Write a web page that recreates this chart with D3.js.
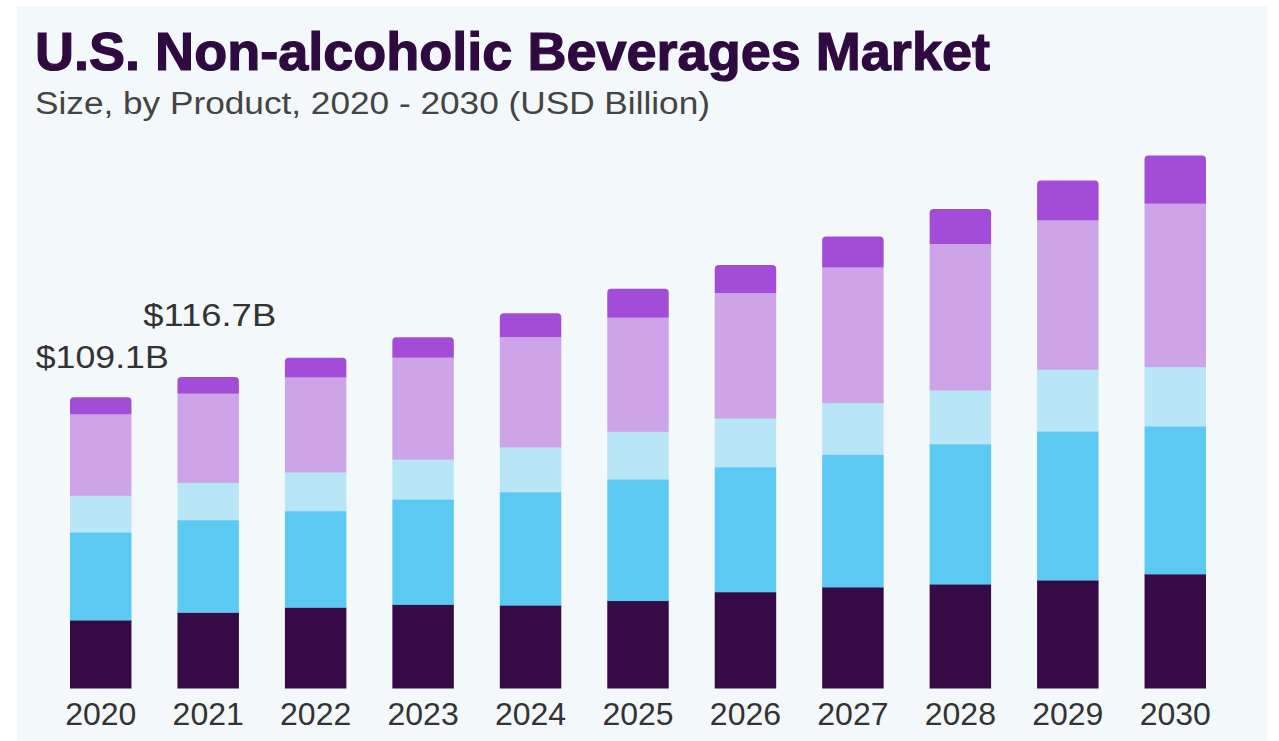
<!DOCTYPE html>
<html>
<head>
<meta charset="utf-8">
<script src="https://cdn.jsdelivr.net/npm/d3@7/dist/d3.min.js"></script>
<style>
  html, body { margin: 0; padding: 0; background: #ffffff; }
  svg { display: block; }
</style>
</head>
<body>
<svg id="chart" width="1279" height="741"></svg>
<script>
const years = ["2020","2021","2022","2023","2024","2025","2026","2027","2028","2029","2030"];
const seriesNames = ["s1","s2","s3","s4","s5"];
const s1 = [25.5, 28.4, 30.3, 31.4, 31.1, 32.8, 36.1, 37.9, 39.0, 40.5, 42.8];
const s2 = [33.0, 34.7, 36.2, 39.5, 42.5, 45.6, 46.9, 49.8, 52.6, 55.9, 55.5];
const s3 = [13.8, 14.0, 14.6, 15.0, 16.9, 17.9, 18.3, 19.4, 20.2, 23.2, 22.3];
const s4 = [30.3, 33.3, 35.4, 38.0, 41.1, 42.6, 46.8, 50.7, 54.8, 55.8, 61.1];
const s5 = [6.5, 6.3, 7.4, 7.7, 9.0, 10.9, 10.6, 11.6, 13.1, 15.0, 18.1];
const annotationYears = ["2020", "2021"];
const annotationTexts = ["$109.1B", "$116.7B"];
const colors = ["#360a45", "#5bc9f2", "#b8e6f7", "#cea4e8", "#a34cd7"];

const svg = d3.select("#chart");
svg.append("rect").attr("x", 17).attr("y", 6).attr("width", 1250).attr("height", 735).attr("fill", "#f3f8fa");

const table = years.map((y, i) => ({year: y, s1: s1[i], s2: s2[i], s3: s3[i], s4: s4[i], s5: s5[i]}));
const stacked = d3.stack().keys(seriesNames)(table);

const x = d3.scaleBand().domain(years).range([47, 1229]).paddingInner(0.428).paddingOuter(0.214);
const y = d3.scaleLinear().domain([0, 200]).range([688, 155]);

const g = svg.append("g");
stacked.forEach((layer, li) => {
  const isTop = li === stacked.length - 1;
  const sel = g.append("g").attr("fill", colors[li]);
  layer.forEach(d => {
    const x0 = x(d.data.year), w = x.bandwidth();
    const yTop = y(d[1]), yBot = y(d[0]);
    if (isTop) {
      const r = 4;
      const p = d3.path();
      p.moveTo(x0, yBot);
      p.lineTo(x0, yTop + r);
      p.quadraticCurveTo(x0, yTop, x0 + r, yTop);
      p.lineTo(x0 + w - r, yTop);
      p.quadraticCurveTo(x0 + w, yTop, x0 + w, yTop + r);
      p.lineTo(x0 + w, yBot);
      p.closePath();
      sel.append("path").attr("d", p.toString());
    } else {
      sel.append("rect").attr("x", x0).attr("y", yTop).attr("width", w).attr("height", yBot - yTop + 0.5);
    }
  });
});

// x axis
const axis = svg.append("g").attr("transform", "translate(0,695)")
  .call(d3.axisBottom(x).tickSize(0).tickPadding(0));
axis.select(".domain").remove();
axis.selectAll("text")
  .attr("dy", "0")
  .attr("y", 30)
  .attr("fill", "#333333")
  .style("font-family", "'Liberation Sans', Arial, sans-serif")
  .style("font-size", "32px");

// annotations
const totals = years.map((yr, i) => s1[i] + s2[i] + s3[i] + s4[i] + s5[i]);
const annOffsets = [29, 51];
annotationYears.forEach((yr, k) => {
  const i = years.indexOf(yr);
  svg.append("text")
    .attr("x", x(yr) + x.bandwidth() / 2 - 65)
    .attr("y", y(totals[i]) - annOffsets[k])
    .attr("fill", "#333333")
    .attr("textLength", 133)
    .attr("lengthAdjust", "spacingAndGlyphs")
    .style("font-family", "'Liberation Sans', Arial, sans-serif")
    .style("font-size", "32px")
    .text(annotationTexts[k]);
});

// titles
svg.append("text")
  .attr("x", 35).attr("y", 70)
  .attr("fill", "#2e0a40")
  .attr("stroke", "#2e0a40")
  .attr("stroke-width", 1.2)
  .attr("textLength", 955)
  .attr("lengthAdjust", "spacingAndGlyphs")
  .style("font-family", "'Liberation Sans Narrow', 'Liberation Sans', Arial, sans-serif")
  .style("font-weight", "bold")
  .style("font-size", "53px")
  .text("U.S. Non-alcoholic Beverages Market");

svg.append("text")
  .attr("x", 35).attr("y", 114)
  .attr("fill", "#444444")
  .attr("textLength", 675)
  .attr("lengthAdjust", "spacingAndGlyphs")
  .style("font-family", "'Liberation Sans Narrow', 'Liberation Sans', Arial, sans-serif")
  .style("font-size", "31px")
  .text("Size, by Product, 2020 - 2030 (USD Billion)");
</script>
</body>
</html>
